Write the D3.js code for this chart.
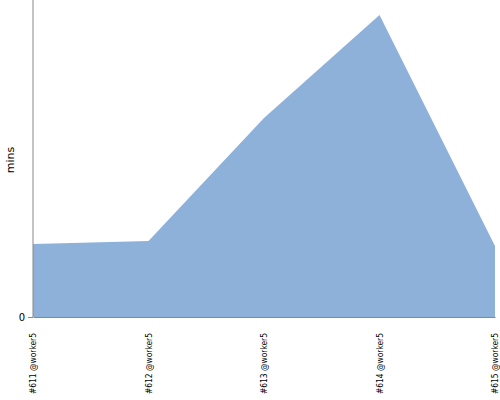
<!DOCTYPE html>
<html>
<head>
<meta charset="utf-8">
<script src="https://cdn.jsdelivr.net/npm/d3@7"></script>
<style>
  body { margin: 0; background: #fff; }
  text { font-family: "DejaVu Sans", sans-serif; }
</style>
</head>
<body>
<div id="chart"></div>
<script>
var builds = ['#611 @worker5', '#612 @worker5', '#613 @worker5', '#614 @worker5', '#615 @worker5'];
var durations = [7.3, 7.6, 19.9, 30.2, 7.1];
var yTicks = [0];

var width = 500, height = 400;
var margin = {top: 0, right: 5, bottom: 83, left: 33};

var svg = d3.select('#chart').append('svg')
    .attr('width', width)
    .attr('height', height);

var x = d3.scalePoint()
    .domain(builds)
    .range([margin.left, width - margin.right]);

var y = d3.scaleLinear()
    .domain([0, 31.7])
    .range([height - margin.bottom, margin.top]);

var data = builds.map(function (b, i) {
    return {build: b, mins: durations[i]};
});

var area = d3.area()
    .x(function (d) { return x(d.build); })
    .y0(y(0))
    .y1(function (d) { return y(d.mins); });

svg.append('path')
    .datum(data)
    .attr('fill', '#8eb1da')
    .attr('d', area);

// y axis
var yAxis = svg.append('g')
    .attr('transform', 'translate(' + margin.left + ',0)')
    .call(d3.axisLeft(y).tickValues(yTicks).tickSize(5).tickPadding(3));
yAxis.select('.domain').attr('stroke', '#888').attr('d', 'M0,' + y(0) + 'V0');
yAxis.selectAll('.tick line').attr('stroke', '#888');
yAxis.selectAll('text').attr('font-size', 10).attr('fill', '#000');

// x axis
var xAxis = svg.append('g')
    .attr('transform', 'translate(0,' + y(0) + ')')
    .call(d3.axisBottom(x).tickSize(0).tickPadding(0));
xAxis.select('.domain').attr('stroke', '#888');
xAxis.selectAll('text')
    .attr('font-size', 8)
    .attr('fill', '#000')
    .attr('text-anchor', 'end')
    .attr('transform', 'rotate(-90)')
    .attr('x', -16)
    .attr('y', 0)
    .attr('dy', '0.35em')
    .attr('textLength', 61)
    .attr('lengthAdjust', 'spacingAndGlyphs');

svg.append('text')
    .attr('transform', 'translate(14,160) rotate(-90)')
    .attr('text-anchor', 'middle')
    .attr('font-size', 11)
    .text('mins');
</script>
</body>
</html>
